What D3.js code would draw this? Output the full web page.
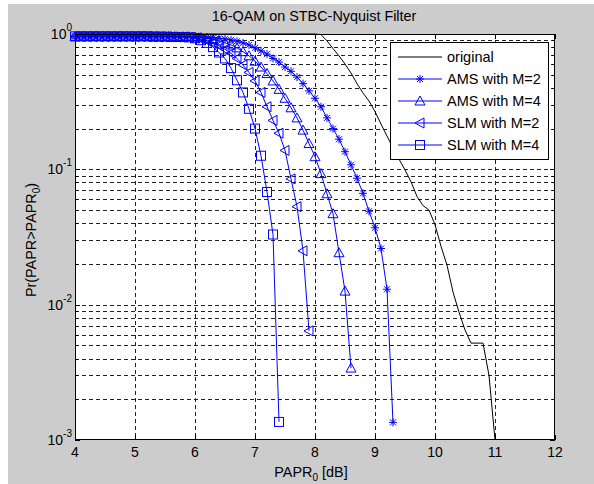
<!DOCTYPE html>
<html>
<head>
<meta charset="utf-8">
<script src="https://cdn.jsdelivr.net/npm/d3@7"></script>
<style>
  body { margin: 0; background: #fff; }
  svg { display: block; font-family: "Liberation Sans", Arial, sans-serif; }
</style>
</head>
<body>
<svg width="594" height="484"></svg>
<script>
// x grid (PAPR0 in dB), one value every 0.1 dB
const papr = [4.0,4.1,4.2,4.3,4.4,4.5,4.6,4.7,4.8,4.9,
  5.0,5.1,5.2,5.3,5.4,5.5,5.6,5.7,5.8,5.9,
  6.0,6.1,6.2,6.3,6.4,6.5,6.6,6.7,6.8,6.9,
  7.0,7.1,7.2,7.3,7.4,7.5,7.6,7.7,7.8,7.9,
  8.0,8.1,8.2,8.3,8.4,8.5,8.6,8.7,8.8,8.9,
  9.0,9.1,9.2,9.3,9.4,9.5,9.6,9.7,9.8,9.9,
  10.0,10.1,10.2,10.3,10.4,10.5,10.6,10.7,10.8,10.9,11.0];

// CCDF values
const original = [1,1,1,1,1,1,1,1,1,1,
  1,1,1,1,1,1,1,1,1,1,
  1,1,1,1,1,1,1,1,1,1,
  1,1,1,1,1,1,1,1,1,1,
  1,0.99,0.89,0.78,0.69,0.6,0.515,0.43,0.366,0.32,
  0.267,0.216,0.176,0.144,0.119,0.099,0.081,0.063,0.054,0.05,
  0.039,0.027,0.0196,0.0124,0.0088,0.0065,0.0052,0.0052,0.0052,0.003,0.001];

const ams2 = [0.96,0.96,0.96,0.96,0.96,0.96,0.96,0.96,0.96,0.96,
  0.96,0.96,0.96,0.96,0.96,0.96,0.96,0.96,0.96,0.96,
  0.955,0.95,0.945,0.94,0.93,0.92,0.905,0.885,0.86,0.83,
  0.79,0.75,0.71,0.66,0.62,0.57,0.53,0.48,0.43,0.38,
  0.335,0.29,0.24,0.2,0.167,0.135,0.108,0.086,0.0665,0.049,
  0.037,0.026,0.013,0.00135];

const ams4 = [0.96,0.96,0.96,0.96,0.96,0.96,0.96,0.96,0.96,0.96,
  0.96,0.96,0.96,0.96,0.96,0.96,0.96,0.955,0.955,0.955,
  0.95,0.94,0.93,0.91,0.89,0.86,0.83,0.79,0.74,0.69,
  0.63,0.57,0.51,0.45,0.39,0.335,0.285,0.24,0.195,0.155,
  0.124,0.093,0.066,0.047,0.0242,0.0126,0.0034];

const slm2 = [0.96,0.96,0.96,0.96,0.96,0.96,0.96,0.96,0.96,0.96,
  0.96,0.96,0.96,0.96,0.955,0.955,0.955,0.95,0.95,0.945,
  0.935,0.915,0.89,0.86,0.82,0.77,0.72,0.66,0.59,0.52,
  0.45,0.37,0.29,0.23,0.185,0.138,0.085,0.053,0.025,0.0064];

const slm4 = [0.96,0.96,0.96,0.96,0.96,0.96,0.96,0.96,0.96,0.96,
  0.96,0.96,0.96,0.955,0.955,0.955,0.95,0.95,0.95,0.945,
  0.93,0.9,0.86,0.8,0.73,0.66,0.56,0.455,0.37,0.28,
  0.2,0.126,0.068,0.033,0.00136];

const legendLabels = ["original", "AMS with M=2", "AMS with M=4", "SLM with M=2", "SLM with M=4"];
const xTicks = [4,5,6,7,8,9,10,11,12];
const yMajor = [1e-3, 1e-2, 1e-1, 1];
const yExp = ["-3", "-2", "-1", "0"];

const series = [
  {name: legendLabels[0], values: original, color: "#000", marker: null},
  {name: legendLabels[1], values: ams2, color: "#0000ff", marker: "star"},
  {name: legendLabels[2], values: ams4, color: "#0000ff", marker: "tri"},
  {name: legendLabels[3], values: slm2, color: "#0000ff", marker: "left"},
  {name: legendLabels[4], values: slm4, color: "#0000ff", marker: "square"}
];

const svg = d3.select("svg");
const W = 594, H = 484;
const pL = 75, pR = 555, pT = 34, pB = 440;

// figure background
svg.append("rect").attr("x", 8).attr("y", 4).attr("width", W - 8).attr("height", H - 4).attr("fill", "#cccccc");
svg.append("rect").attr("x", pL).attr("y", pT).attr("width", pR - pL).attr("height", pB - pT).attr("fill", "#fff");

const x = d3.scaleLinear().domain([4, 12]).range([pL, pR]);
const y = d3.scaleLog().domain([1e-3, 1]).range([pB, pT]);

// grid lines (dashed)
const yAll = y.ticks();
const grid = svg.append("g").attr("stroke", "#222").attr("stroke-dasharray", "4,3").attr("stroke-width", 1);
grid.selectAll("line.gx")
  .data(xTicks.slice(1, -1))
  .enter().append("line")
  .attr("x1", d => Math.round(x(d)) + 0.5).attr("x2", d => Math.round(x(d)) + 0.5)
  .attr("y1", pT).attr("y2", pB);
grid.selectAll("line.gy")
  .data(yAll.filter(d => d > 1e-3 && d < 1))
  .enter().append("line")
  .attr("y1", d => Math.round(y(d)) + 0.5).attr("y2", d => Math.round(y(d)) + 0.5)
  .attr("x1", pL).attr("x2", pR);

// ticks (inside, on all four sides)
const ticks = svg.append("g").attr("stroke", "#000").attr("stroke-width", 1);
xTicks.forEach(t => {
  const px = Math.round(x(t)) + 0.5;
  ticks.append("line").attr("x1", px).attr("x2", px).attr("y1", pB).attr("y2", pB - 5);
  ticks.append("line").attr("x1", px).attr("x2", px).attr("y1", pT).attr("y2", pT + 5);
});
yAll.forEach(t => {
  const py = Math.round(y(t)) + 0.5;
  const len = yMajor.includes(t) ? 5 : 3;
  ticks.append("line").attr("y1", py).attr("y2", py).attr("x1", pL).attr("x2", pL + len);
  ticks.append("line").attr("y1", py).attr("y2", py).attr("x1", pR).attr("x2", pR - len);
});

// series
const line = d3.line().x(d => x(d[0])).y(d => y(d[1]));

function marker(g, type, cx, cy, color) {
  if (type === "star") {
    g.append("path").attr("fill", "none").attr("stroke", color)
      .attr("d", `M${cx-4},${cy}H${cx+4}M${cx},${cy-4}V${cy+4}M${cx-3},${cy-3}L${cx+3},${cy+3}M${cx-3},${cy+3}L${cx+3},${cy-3}`);
  } else if (type === "tri") {
    g.append("path").attr("fill", "none").attr("stroke", color)
      .attr("d", `M${cx},${cy-5}L${cx+5},${cy+4}L${cx-5},${cy+4}Z`);
  } else if (type === "left") {
    g.append("path").attr("fill", "none").attr("stroke", color)
      .attr("d", `M${cx-5},${cy}L${cx+4},${cy-5}L${cx+4},${cy+5}Z`);
  } else if (type === "square") {
    g.append("rect").attr("fill", "none").attr("stroke", color)
      .attr("x", cx - 4.5).attr("y", cy - 4.5).attr("width", 9).attr("height", 9);
  }
}

series.forEach(s => {
  const pts = s.values.map((v, i) => [papr[i], v]);
  const g = svg.append("g");
  g.append("path").datum(pts)
    .attr("d", line)
    .attr("fill", "none")
    .attr("stroke", s.color)
    .attr("stroke-width", 1);
  if (s.marker) {
    pts.forEach(p => marker(g, s.marker, x(p[0]), y(p[1]), s.color));
  }
});

// axes box
svg.append("rect").attr("x", pL + 0.5).attr("y", pT + 0.5)
  .attr("width", pR - pL - 1).attr("height", pB - pT - 1)
  .attr("fill", "none").attr("stroke", "#000");

// tick labels
svg.append("g").selectAll("text")
  .data(xTicks).enter().append("text")
  .attr("x", d => x(d)).attr("y", pB + 17)
  .attr("text-anchor", "middle").attr("font-size", 14)
  .text(d => d);

yMajor.forEach((t, i) => {
  const tx = svg.append("text").attr("x", pL - 3).attr("y", y(t) + 5)
    .attr("text-anchor", "end").attr("font-size", 14);
  tx.append("tspan").text("10");
  tx.append("tspan").attr("dy", -8).attr("font-size", 10).text(yExp[i]);
});

// title and axis labels
svg.append("text").attr("x", 314).attr("y", 21).attr("text-anchor", "middle")
  .attr("font-size", 14.4).text("16-QAM on STBC-Nyquist Filter");

const xl = svg.append("text").attr("x", 311).attr("y", 477).attr("text-anchor", "middle").attr("font-size", 14.4);
xl.append("tspan").text("PAPR");
xl.append("tspan").attr("dy", 4).attr("font-size", 10).text("0");
xl.append("tspan").attr("dy", -4).text(" [dB]");

const yl = svg.append("text").attr("transform", "translate(36,240) rotate(-90)")
  .attr("text-anchor", "middle").attr("font-size", 14.4);
yl.append("tspan").text("Pr(PAPR>PAPR");
yl.append("tspan").attr("dy", 4).attr("font-size", 10).text("0");
yl.append("tspan").attr("dy", -4).text(")");

// legend
const lg = svg.append("g");
lg.append("rect").attr("x", 390.5).attr("y", 42.5).attr("width", 158).attr("height", 117)
  .attr("fill", "#fff").attr("stroke", "#000");
series.forEach((s, i) => {
  const cy = 57 + i * 22;
  lg.append("line").attr("x1", 398).attr("x2", 442).attr("y1", cy).attr("y2", cy)
    .attr("stroke", s.color).attr("stroke-width", 1);
  if (s.marker) marker(lg, s.marker, 420, cy, s.color);
  lg.append("text").attr("x", 447).attr("y", cy + 5).attr("font-size", 14.5).text(s.name);
});
</script>
</body>
</html>
